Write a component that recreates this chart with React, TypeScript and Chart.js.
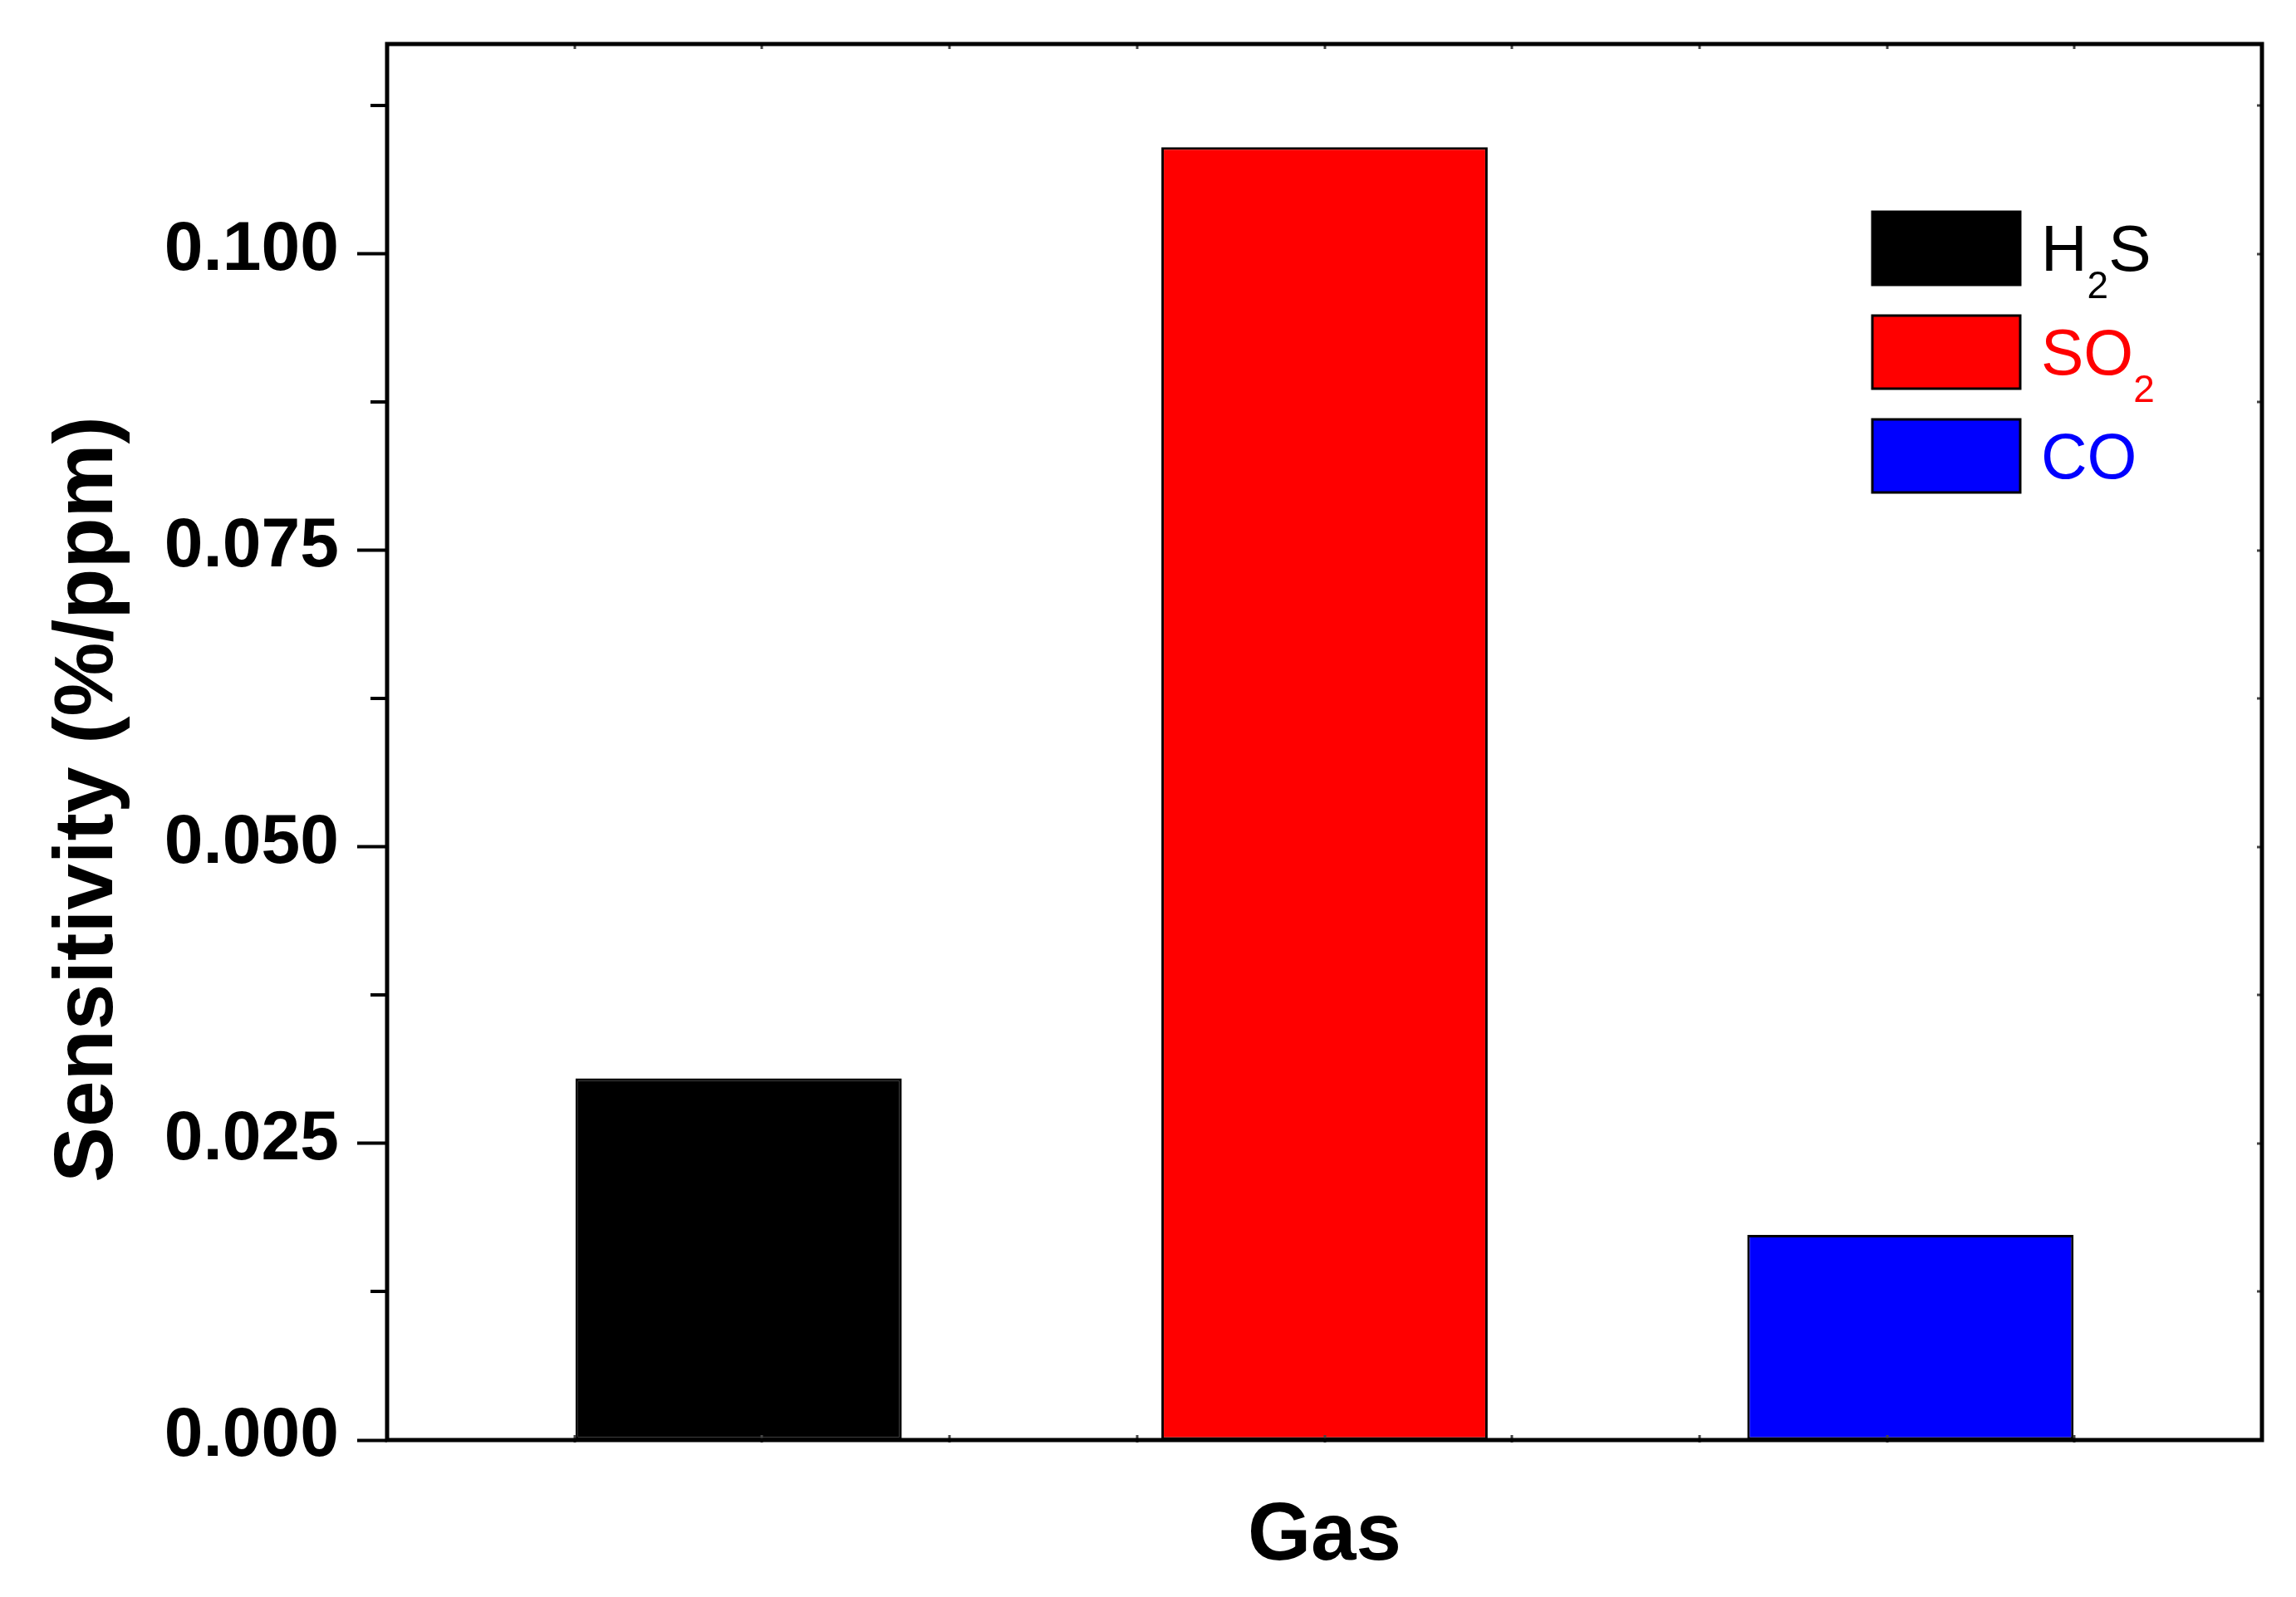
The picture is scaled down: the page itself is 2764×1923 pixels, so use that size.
import React, { useEffect, useRef } from 'react';
import { Chart, registerables } from 'chart.js';

Chart.register(...registerables);

// ---- data ----
const GASES = ['H2S', 'SO2', 'CO'];
const GAS_X = [1, 2, 3];
const SENSITIVITY = [0.0305, 0.109, 0.0173];
const BAR_COLORS = ['#000000', '#FF0000', '#0000FF'];
const LEGEND_TEXT_COLORS = ['#000000', '#FF0000', '#0000FF'];
const Y_MAJOR_TICKS = [0, 0.025, 0.05, 0.075, 0.1];
const Y_MINOR_TICKS = [0.0125, 0.0375, 0.0625, 0.0875, 0.1125];
const X_FRAME_TICKS = [0.72, 1.04, 1.36, 1.68, 2.0, 2.32, 2.64, 2.96, 3.28];
const X_TITLE = 'Gas';
const Y_TITLE = 'Sensitivity (%/ppm)';
const X_MIN = 0.4;
const X_MAX = 3.6;
const Y_MIN = 0;
const Y_MAX = 0.1177;

const FONT = '"Liberation Sans", Arial, Helvetica, sans-serif';

// split "H2S" into runs: digits become subscripts
function splitRuns(label: string) {
  const parts = label.split(/(\d+)/).filter((p) => p.length > 0);
  return parts.map((p) => ({ text: p, sub: /^\d+$/.test(p) }));
}

const framePlugin = {
  id: 'frameAndText',
  afterDatasetsDraw(chart: any) {
    const { ctx, chartArea: a, scales } = chart;
    const xs = scales.x;
    const ys = scales.y;
    ctx.save();
    // minor ticks on left axis (outward)
    ctx.strokeStyle = '#000';
    ctx.lineWidth = 4;
    ctx.beginPath();
    for (const v of Y_MINOR_TICKS) {
      const py = Math.round(ys.getPixelForValue(v));
      ctx.moveTo(a.left - 20, py);
      ctx.lineTo(a.left, py);
    }
    ctx.stroke();
    // tiny ticks on right/top/bottom
    ctx.strokeStyle = '#444';
    ctx.lineWidth = 3;
    ctx.beginPath();
    for (const v of [...Y_MAJOR_TICKS, ...Y_MINOR_TICKS]) {
      const py = Math.round(ys.getPixelForValue(v));
      ctx.moveTo(a.right - 6, py);
      ctx.lineTo(a.right, py);
    }
    for (const v of X_FRAME_TICKS) {
      const px = Math.round(xs.getPixelForValue(v));
      ctx.moveTo(px, a.top);
      ctx.lineTo(px, a.top + 6);
      ctx.moveTo(px, a.bottom - 6);
      ctx.lineTo(px, a.bottom + 3);
    }
    ctx.stroke();
    // frame
    ctx.strokeStyle = '#000';
    ctx.lineWidth = 5;
    ctx.strokeRect(a.left, a.top, a.right - a.left, a.bottom - a.top);
    ctx.restore();
  },
  afterDraw(chart: any) {
    const { ctx, chartArea: a } = chart;
    ctx.save();
    // x title
    ctx.fillStyle = '#000';
    ctx.font = `bold 98px ${FONT}`;
    ctx.textAlign = 'center';
    ctx.textBaseline = 'alphabetic';
    ctx.fillText(X_TITLE, (a.left + a.right) / 2, a.bottom + 144);
    // y title
    ctx.save();
    ctx.translate(135, (a.top + a.bottom) / 2 + 69);
    ctx.rotate(-Math.PI / 2);
    ctx.font = `bold 100px ${FONT}`;
    ctx.textAlign = 'center';
    ctx.fillText(Y_TITLE, 0, 0);
    ctx.restore();

    // legend
    const boxLeft = a.right - 469;
    const boxW = 178;
    const boxH = 88;
    const firstTop = a.top + 202;
    const step = 125;
    GASES.forEach((g, i) => {
      const top = firstTop + i * step;
      ctx.fillStyle = BAR_COLORS[i];
      ctx.fillRect(boxLeft, top, boxW, boxH);
      ctx.strokeStyle = '#000';
      ctx.lineWidth = 3;
      ctx.strokeRect(boxLeft, top, boxW, boxH);
      let tx = boxLeft + boxW + 25;
      const base = top + boxH / 2 + 27;
      ctx.fillStyle = LEGEND_TEXT_COLORS[i];
      ctx.textAlign = 'left';
      for (const run of splitRuns(g)) {
        if (run.sub) {
          ctx.font = `46px ${FONT}`;
          ctx.fillText(run.text, tx, base + 33);
        } else {
          ctx.font = `77px ${FONT}`;
          ctx.fillText(run.text, tx, base);
        }
        tx += ctx.measureText(run.text).width;
      }
    });
    ctx.restore();
  },
};

export default function App() {
  const ref = useRef<HTMLCanvasElement | null>(null);

  useEffect(() => {
    if (!ref.current) return;
    const chart = new Chart(ref.current, {
      type: 'bar',
      data: {
        datasets: GASES.map((g, i) => ({
          label: g,
          data: [{ x: GAS_X[i], y: SENSITIVITY[i] }],
          backgroundColor: BAR_COLORS[i],
          borderColor: '#000000',
          borderWidth: 3,
          borderSkipped: false,
          grouped: false,
          barPercentage: 0.557,
          categoryPercentage: 1,
        })) as any,
      },
      options: {
        animation: false,
        responsive: false,
        devicePixelRatio: 1,
        layout: { padding: { left: 0, top: 53, right: 41, bottom: 0 } },
        plugins: {
          legend: { display: false },
          tooltip: { enabled: false },
          title: { display: false },
        },
        scales: {
          x: {
            type: 'linear',
            min: X_MIN,
            max: X_MAX,
            offset: false,
            grid: { display: false },
            border: { display: false },
            ticks: { display: false },
            afterBuildTicks: (s: any) => {
              s.ticks = [];
            },
            afterFit: (s: any) => {
              s.height = 189;
              s.paddingLeft = 0;
              s.paddingRight = 0;
            },
          },
          y: {
            type: 'linear',
            min: Y_MIN,
            max: Y_MAX,
            afterBuildTicks: (s: any) => {
              s.ticks = Y_MAJOR_TICKS.map((v) => ({ value: v }));
            },
            afterFit: (s: any) => {
              s.width = 466;
              s.paddingTop = 0;
              s.paddingBottom = 0;
            },
            grid: {
              drawOnChartArea: false,
              drawTicks: true,
              tickLength: 36,
              tickWidth: 4,
              tickColor: '#000000',
            },
            border: { display: false },
            ticks: {
              autoSkip: false,
              padding: 22,
              color: '#000000',
              labelOffset: -4,
              font: { family: FONT, size: 84, weight: 'bold' },
              callback: (v: any) => Number(v).toFixed(3),
            },
          },
        },
      } as any,
      plugins: [framePlugin],
    });
    return () => chart.destroy();
  }, []);

  return (
    <div style={{ position: 'fixed', left: 0, top: 0, width: 2764, height: 1923, background: '#ffffff' }}>
      <canvas ref={ref} width={2764} height={1923} style={{ width: 2764, height: 1923, display: 'block' }} />
    </div>
  );
}
